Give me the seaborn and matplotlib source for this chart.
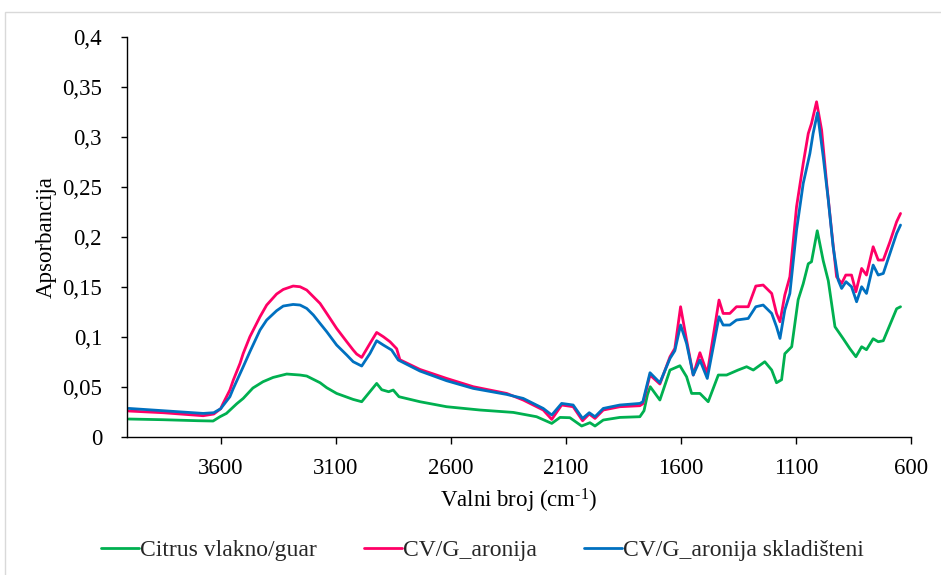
import numpy as np
import pandas as pd
import seaborn as sns
import matplotlib
matplotlib.use("Agg")
import matplotlib.pyplot as plt
from matplotlib.ticker import FuncFormatter
from matplotlib.patches import Rectangle

# FTIR spectra: wavenumber (cm-1) and absorbance for each sample
wn_citrus = [4000, 3850, 3700, 3633, 3603, 3575, 3530, 3502, 3460, 3416, 3372, 3313,
             3255, 3226, 3168, 3139, 3096, 3024, 2987, 2922, 2900, 2870, 2850, 2825,
             2734, 2618, 2473, 2328, 2227, 2161, 2125, 2082, 2031, 1995, 1973, 1937,
             1865, 1778, 1760, 1745, 1733, 1691, 1647, 1604, 1575, 1553, 1517, 1481,
             1437, 1401, 1351, 1314, 1285, 1235, 1205, 1184, 1162, 1148, 1118, 1090,
             1068, 1046, 1032, 1007, 981, 959, 930, 894, 865, 839, 814, 793,
             764, 742, 720, 691, 662, 645]
abs_citrus = [0.0177, 0.0170, 0.0160, 0.0157, 0.0200, 0.0233, 0.0330, 0.0383, 0.0487, 0.0550, 0.0593, 0.0627,
              0.0617, 0.0607, 0.0540, 0.0490, 0.0433, 0.0373, 0.0350, 0.0533, 0.0470, 0.0450, 0.0467, 0.0400,
              0.0350, 0.0300, 0.0267, 0.0243, 0.0200, 0.0133, 0.0193, 0.0190, 0.0107, 0.0140, 0.0107, 0.0167,
              0.0193, 0.0200, 0.0260, 0.0420, 0.0500, 0.0367, 0.0667, 0.0710, 0.0600, 0.0433, 0.0433, 0.0350,
              0.0617, 0.0617, 0.0667, 0.0700, 0.0667, 0.0750, 0.0667, 0.0540, 0.0570, 0.0830, 0.0900, 0.1370,
              0.1530, 0.1730, 0.1750, 0.2060, 0.1760, 0.1560, 0.1100, 0.0980, 0.0880, 0.0800, 0.0900, 0.0870,
              0.0980, 0.0950, 0.0960, 0.1120, 0.1280, 0.1300]

wn_aronija = [4000, 3850, 3676, 3630, 3600, 3590, 3560, 3545, 3516, 3502, 3473, 3429,
              3400, 3357, 3328, 3285, 3255, 3226, 3197, 3168, 3139, 3096, 3052, 3024,
              3009, 2987, 2951, 2922, 2893, 2864, 2835, 2821, 2734, 2618, 2502, 2357,
              2285, 2198, 2161, 2118, 2068, 2027, 1998, 1973, 1937, 1865, 1778, 1765,
              1734, 1691, 1647, 1626, 1601, 1575, 1546, 1517, 1485, 1434, 1416, 1387,
              1358, 1307, 1274, 1242, 1205, 1184, 1169, 1148, 1126, 1097, 1068, 1046,
              1032, 1010, 988, 966, 945, 923, 901, 883, 858, 839, 814, 793,
              764, 742, 720, 691, 662, 645]
abs_aronija = [0.0257, 0.0240, 0.0210, 0.0227, 0.0280, 0.0330, 0.0467, 0.0567, 0.0733, 0.0833, 0.1000, 0.1200,
               0.1317, 0.1427, 0.1473, 0.1507, 0.1500, 0.1467, 0.1400, 0.1333, 0.1233, 0.1083, 0.0950, 0.0867,
               0.0827, 0.0793, 0.0933, 0.1043, 0.1000, 0.0950, 0.0880, 0.0770, 0.0673, 0.0583, 0.0500, 0.0433,
               0.0367, 0.0267, 0.0173, 0.0317, 0.0300, 0.0160, 0.0227, 0.0183, 0.0267, 0.0300, 0.0310, 0.0330,
               0.0617, 0.0527, 0.0800, 0.0883, 0.1300, 0.0967, 0.0617, 0.0840, 0.0633, 0.1367, 0.1233, 0.1233,
               0.1300, 0.1300, 0.1507, 0.1517, 0.1433, 0.1233, 0.1150, 0.1417, 0.1600, 0.2300, 0.2733, 0.3033,
               0.3133, 0.3350, 0.3067, 0.2533, 0.2067, 0.1600, 0.1533, 0.1617, 0.1617, 0.1450, 0.1683, 0.1617,
               0.1900, 0.1767, 0.1767, 0.1950, 0.2150, 0.2233]

wn_skladisteni = [4000, 3850, 3676, 3630, 3600, 3560, 3545, 3502, 3473, 3429, 3400, 3357,
                  3328, 3285, 3255, 3226, 3197, 3168, 3139, 3096, 3052, 3024, 2987, 2951,
                  2922, 2893, 2857, 2828, 2734, 2618, 2502, 2357, 2285, 2198, 2161, 2118,
                  2068, 2027, 1998, 1973, 1937, 1865, 1778, 1765, 1734, 1691, 1647, 1626,
                  1601, 1575, 1546, 1517, 1485, 1434, 1416, 1387, 1358, 1307, 1274, 1242,
                  1205, 1184, 1169, 1148, 1126, 1097, 1068, 1039, 1025, 1006, 981, 959,
                  938, 916, 901, 882, 858, 836, 814, 793, 764, 742, 720, 691,
                  662, 645]
abs_skladisteni = [0.0283, 0.0260, 0.0233, 0.0240, 0.0280, 0.0400, 0.0483, 0.0700, 0.0850, 0.1067, 0.1167, 0.1260,
                   0.1307, 0.1323, 0.1317, 0.1283, 0.1217, 0.1133, 0.1050, 0.0917, 0.0817, 0.0750, 0.0707, 0.0833,
                   0.0960, 0.0917, 0.0867, 0.0767, 0.0657, 0.0560, 0.0483, 0.0423, 0.0383, 0.0283, 0.0217, 0.0333,
                   0.0317, 0.0183, 0.0240, 0.0200, 0.0283, 0.0317, 0.0333, 0.0350, 0.0640, 0.0540, 0.0783, 0.0860,
                   0.1117, 0.0933, 0.0617, 0.0767, 0.0583, 0.1200, 0.1117, 0.1117, 0.1167, 0.1183, 0.1300, 0.1317,
                   0.1233, 0.1100, 0.0983, 0.1267, 0.1433, 0.2067, 0.2533, 0.2833, 0.3033, 0.3240, 0.2800, 0.2367,
                   0.1900, 0.1567, 0.1483, 0.1550, 0.1500, 0.1350, 0.1500, 0.1433, 0.1717, 0.1617, 0.1633, 0.1833,
                   0.2033, 0.2117]

samples = ["Citrus vlakno/guar", "CV/G_aronija", "CV/G_aronija skladišteni"]
colors = ["#00B050", "#FF0066", "#0070C0"]
x_ticks = [3600, 3100, 2600, 2100, 1600, 1100, 600]
y_ticks = [0, 0.05, 0.1, 0.15, 0.2, 0.25, 0.3, 0.35, 0.4]

frames = []
for name, wn, ab in zip(samples,
                        [wn_citrus, wn_aronija, wn_skladisteni],
                        [abs_citrus, abs_aronija, abs_skladisteni]):
    frames.append(pd.DataFrame({"wn": wn, "abs": ab, "sample": name}))
df = pd.concat(frames, ignore_index=True)

sns.set_theme(style="white")
plt.rcParams["font.family"] = ["Liberation Serif", "DejaVu Serif"]
plt.rcParams["mathtext.fontset"] = "custom"
plt.rcParams["mathtext.rm"] = "Liberation Serif"
plt.rcParams["mathtext.default"] = "regular"

fig = plt.figure(figsize=(9.41, 5.75), dpi=100)
ax = fig.add_axes([0.135, 0.2405, 0.833, 0.6955])

# light frame around the whole chart area
fig.patches.append(Rectangle((5 / 941, -0.05), 1.2, 1 - 12 / 575 + 0.05,
                             transform=fig.transFigure, fill=False,
                             edgecolor="#D9D9D9", linewidth=1.0, zorder=0))

sns.lineplot(data=df, x="wn", y="abs", hue="sample", hue_order=samples,
             palette=dict(zip(samples, colors)), estimator=None, sort=False,
             linewidth=2.0, ax=ax, legend=True)

ax.set_xlim(4007, 600)
ax.set_ylim(0, 0.4)
ax.set_xticks(x_ticks)
ax.set_yticks(y_ticks)
ax.yaxis.set_major_formatter(FuncFormatter(lambda v, p: f"{v:g}".replace(".", ",")))

for s in ["top", "right"]:
    ax.spines[s].set_visible(False)
for s in ["left", "bottom"]:
    ax.spines[s].set_color("black")
    ax.spines[s].set_linewidth(1.0)

ax.tick_params(axis="y", which="major", direction="out", length=4, width=1.0,
               left=True, labelsize=16.5, pad=14, colors="black")
ax.tick_params(axis="x", which="major", direction="out", length=5, width=1.0,
               bottom=True, labelsize=16.5, pad=10, colors="black")

ax.set_xlabel("Valni broj (cm$^{\u20101}$)", fontsize=16.5, color="black", labelpad=6)
ax.set_ylabel("Apsorbancija", fontsize=16.5, color="black", labelpad=4)

handles, labels = ax.get_legend_handles_labels()
ax.get_legend().remove()
fig.legend(handles, labels, loc="center", bbox_to_anchor=(0.513, 0.043),
           ncol=3, frameon=False, fontsize=17, handlelength=1.6,
           handletextpad=0.05, columnspacing=2.0)

fig.savefig("out.png", dpi=100)
